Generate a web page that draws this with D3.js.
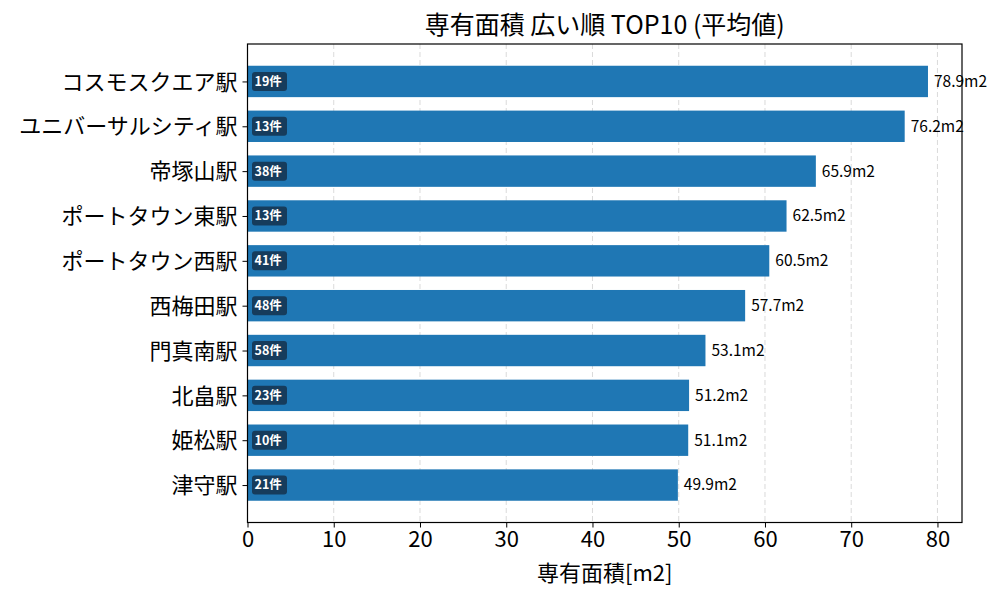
<!DOCTYPE html>
<html lang="ja">
<head>
  <meta charset="UTF-8">
  <script src="https://d3js.org/d3.v7.min.js"></script>
  <title>専有面積 広い順 TOP10</title>
  <style>
    body { margin: 0; background: #fff; }
    svg { font-family: "Noto Sans CJK JP", "Noto Sans", sans-serif; }
  </style>
</head>
<body>
  <svg width="1000" height="600"></svg>
  <script>
    // データ(上から順)
    const stations = ["コスモスクエア駅", "ユニバーサルシティ駅", "帝塚山駅", "ポートタウン東駅", "ポートタウン西駅",
                      "西梅田駅", "門真南駅", "北畠駅", "姫松駅", "津守駅"];
    const areas = [78.9, 76.2, 65.9, 62.5, 60.5, 57.7, 53.1, 51.2, 51.1, 49.9];
    const counts = [19, 13, 38, 13, 41, 48, 58, 23, 10, 21];
    const xTicks = [0, 10, 20, 30, 40, 50, 60, 70, 80];

    const svg = d3.select("svg");
    const plotL = 247.5, plotR = 962, plotT = 44, plotB = 522.5;

    // x軸(matplotlib風に5%の余白)
    const xScale = d3.scaleLinear().domain([0, d3.max(areas) * 1.05]).range([plotL, plotR]);
    // y軸 index 0 が一番上
    const n = stations.length;
    const barH = 0.7;
    const yScale = d3.scaleLinear()
      .domain([-barH / 2 - 0.05 * (n - 1 + barH), n - 1 + barH / 2 + 0.05 * (n - 1 + barH)])
      .range([plotT, plotB]);

    // グリッド
    svg.append("g")
      .selectAll("line")
      .data(xTicks)
      .join("line")
      .attr("x1", d => xScale(d)).attr("x2", d => xScale(d))
      .attr("y1", plotT).attr("y2", plotB)
      .attr("stroke", "#b0b0b0")
      .attr("stroke-opacity", 0.6)
      .attr("stroke-dasharray", "5,3")
      .attr("stroke-width", 0.8);

    // 棒
    const rows = svg.append("g")
      .selectAll("g")
      .data(stations.map((s, i) => ({ name: s, area: areas[i], count: counts[i], i: i })))
      .join("g");

    rows.append("rect")
      .attr("x", xScale(0))
      .attr("y", d => yScale(d.i - barH / 2))
      .attr("width", d => xScale(d.area) - xScale(0))
      .attr("height", d => yScale(d.i + barH / 2) - yScale(d.i - barH / 2))
      .attr("fill", "#1f77b4");

    // 値ラベル
    rows.append("text")
      .attr("x", d => xScale(d.area) + 6)
      .attr("y", d => yScale(d.i))
      .attr("dy", "0.35em")
      .attr("font-size", 15.5)
      .attr("fill", "#000")
      .text(d => d.area.toFixed(1) + "m2");

    // 件数バッジ
    rows.append("rect")
      .attr("x", xScale(0) + 4.5)
      .attr("y", d => yScale(d.i) - 9.5)
      .attr("width", 35)
      .attr("height", 19)
      .attr("rx", 3)
      .attr("fill", "#163c5c");

    rows.append("text")
      .attr("x", xScale(0) + 7)
      .attr("y", d => yScale(d.i))
      .attr("dy", "0.35em")
      .attr("font-size", 12.5)
      .attr("font-weight", "bold")
      .attr("fill", "#fff")
      .text(d => d.count + "件");

    // 軸
    const xAxis = d3.axisBottom(xScale).tickValues(xTicks).tickSize(5).tickPadding(4);
    const gx = svg.append("g").attr("transform", `translate(0,${plotB})`).call(xAxis);
    gx.select(".domain").remove();
    gx.selectAll("text").attr("font-size", 22).attr("fill", "#000")
      .attr("font-family", "\"Noto Sans CJK JP\", sans-serif");
    gx.selectAll("line").attr("stroke", "#000");

    const yAxis = d3.axisLeft(yScale).tickValues(d3.range(n)).tickFormat(i => stations[i]).tickSize(5).tickPadding(5);
    const gy = svg.append("g").attr("transform", `translate(${plotL},0)`).call(yAxis);
    gy.select(".domain").remove();
    gy.selectAll("text").attr("font-size", 22).attr("fill", "#000").attr("dy", "0.35em")
      .attr("font-family", "\"Noto Sans CJK JP\", sans-serif");
    gy.selectAll("line").attr("stroke", "#000");

    // 枠
    svg.append("rect")
      .attr("x", plotL).attr("y", plotT)
      .attr("width", plotR - plotL).attr("height", plotB - plotT)
      .attr("fill", "none").attr("stroke", "#000").attr("stroke-width", 1.2);

    // タイトル・軸ラベル
    svg.append("text")
      .attr("x", (plotL + plotR) / 2).attr("y", 34)
      .attr("text-anchor", "middle")
      .attr("font-size", 25)
      .text("専有面積 広い順 TOP10 (平均値)");

    svg.append("text")
      .attr("x", (plotL + plotR) / 2).attr("y", 581)
      .attr("text-anchor", "middle")
      .attr("font-size", 22)
      .text("専有面積[m2]");
  </script>
</body>
</html>
